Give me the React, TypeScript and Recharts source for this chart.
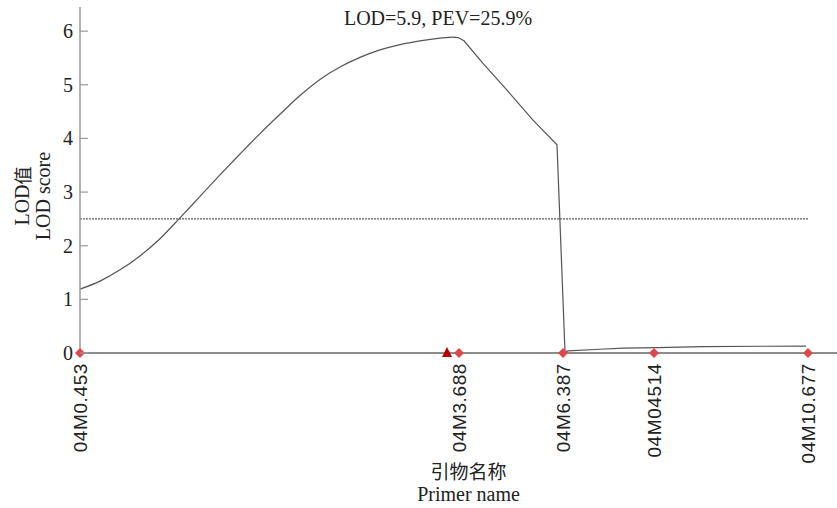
import React from 'react';
import { ComposedChart, Line, Scatter, XAxis, YAxis, ReferenceLine, Label, Customized } from 'recharts';

// marker positions along the linkage group (plot units)
const markerNames = ['04M0.453', '04M3.688', '04M6.387', '04M04514', '04M10.677'];
const markerPos = [0, 37.9, 48.3, 57.4, 72.8];
const peakPos = [36.7];

// LOD profile, rising side (smooth)
const riseX = [0, 2, 4, 6, 8, 10, 12, 14, 16, 18, 20, 22, 24, 26, 28, 30, 32, 34, 36, 37.3];
const riseLod = [1.19, 1.34, 1.55, 1.81, 2.13, 2.52, 2.92, 3.32, 3.71, 4.09, 4.45, 4.8, 5.1, 5.33, 5.51, 5.65, 5.75, 5.82, 5.87, 5.89];
// LOD profile, falling side and tail (straight pieces)
const fallX = [37.3, 37.8, 38.4, 40.3, 42.7, 45.3, 47.7, 48.5, 48.8, 52, 54.3, 57.7, 62.3, 72.6];
const fallLod = [5.89, 5.88, 5.82, 5.4, 4.9, 4.34, 3.88, 0.02, 0.04, 0.07, 0.09, 0.1, 0.12, 0.13];

const yTicks = [0, 1, 2, 3, 4, 5, 6];
const threshold = 2.5;

const rise = riseX.map((x, i) => ({ x, lod: riseLod[i] }));
const fall = fallX.map((x, i) => ({ x, lod: fallLod[i] }));
const markers = markerPos.map((x) => ({ x, y: 0 }));
const peak = peakPos.map((x) => ({ x, y: 0 }));

const serif = '"Liberation Serif", "Times New Roman", serif';
const sans = '"Liberation Sans", Arial, sans-serif';

const YTick = ({ x, y, payload }: any) => (
  <g>
    <line x1={x} y1={y} x2={x + 8} y2={y} stroke="#999" strokeWidth={1.2} />
    <text x={x - 7} y={y} textAnchor="end" dominantBaseline="central" fontFamily={serif} fontSize={20} fill="#222">
      {payload.value}
    </text>
  </g>
);

const XTick = ({ x, y, index }: any) => (
  <text
    x={x}
    y={y + 10}
    transform={`rotate(-90, ${x}, ${y + 10})`}
    textAnchor="end"
    dominantBaseline="central"
    fontFamily={sans}
    fontSize={19}
    letterSpacing={0.6}
    fill="#222"
  >
    {markerNames[index]}
  </text>
);

const Diamond = ({ cx, cy }: any) => (
  <polygon points={`${cx},${cy - 5} ${cx + 5},${cy} ${cx},${cy + 5} ${cx - 5},${cy}`} fill="#e0474c" />
);

const Triangle = ({ cx, cy }: any) => (
  <polygon points={`${cx},${cy - 6} ${cx + 5},${cy + 4} ${cx - 5},${cy + 4}`} fill="#b80000" />
);

const YLabel = ({ viewBox }: any) => {
  const cy = viewBox.y + viewBox.height / 2 + 16;
  return (
    <g fontFamily={serif} fontSize={20} fill="#222" textAnchor="middle">
      <text x={22} y={cy} transform={`rotate(-90, 22, ${cy})`} dominantBaseline="central">
        LOD<tspan fontFamily='"Noto Sans CJK SC", sans-serif' fontSize={18}>值</tspan>
      </text>
      <text x={43} y={cy} transform={`rotate(-90, 43, ${cy})`} dominantBaseline="central">
        LOD score
      </text>
    </g>
  );
};

const XLabel = ({ viewBox }: any) => {
  const cx = viewBox.x + viewBox.width / 2 + 10;
  return (
    <g fill="#222" textAnchor="middle">
      <text x={cx} y={470} dominantBaseline="central" fontFamily='"Noto Sans CJK SC", sans-serif' fontSize={19}>
        引物名称
      </text>
      <text x={cx} y={494} dominantBaseline="central" fontFamily={serif} fontSize={20}>
        Primer name
      </text>
    </g>
  );
};

const Title = () => (
  <text x={438} y={18} textAnchor="middle" dominantBaseline="central" fontFamily={serif} fontSize={20} fill="#222">
    LOD=5.9, PEV=25.9%
  </text>
);

export default function App() {
  return (
    <div style={{ position: 'absolute', left: 0, top: 0, background: '#fff' }}>
      <ComposedChart width={837} height={508} margin={{ top: 7, right: 0, bottom: 0, left: 0 }}>
        <XAxis
          type="number"
          dataKey="x"
          domain={[0, 75.7]}
          ticks={markerPos}
          interval={0}
          height={155}
          tickSize={0}
          tickMargin={0}
          tick={<XTick />}
          axisLine={{ stroke: '#8c8c8c', strokeWidth: 2 }}
          tickLine={false}
        >
          <Label content={<XLabel />} />
        </XAxis>
        <YAxis
          type="number"
          domain={[0, 6.45]}
          ticks={yTicks}
          interval={0}
          width={80}
          tickSize={0}
          tickMargin={0}
          tick={<YTick />}
          axisLine={{ stroke: '#999', strokeWidth: 1.5 }}
          tickLine={false}
        >
          <Label content={<YLabel />} />
        </YAxis>
        <ReferenceLine
          segment={[{ x: 0, y: threshold }, { x: 72.8, y: threshold }]}
          stroke="#333"
          strokeDasharray="2 1"
          strokeWidth={1}
        />
        <Line
          data={rise}
          dataKey="lod"
          type="monotone"
          stroke="#555"
          strokeWidth={1.2}
          dot={false}
          activeDot={false}
          isAnimationActive={false}
        />
        <Line
          data={fall}
          dataKey="lod"
          type="linear"
          stroke="#555"
          strokeWidth={1.2}
          dot={false}
          activeDot={false}
          isAnimationActive={false}
        />
        <Scatter data={markers} dataKey="y" shape={<Diamond />} isAnimationActive={false} />
        <Scatter data={peak} dataKey="y" shape={<Triangle />} isAnimationActive={false} />
        <Customized component={<Title />} />
      </ComposedChart>
    </div>
  );
}
